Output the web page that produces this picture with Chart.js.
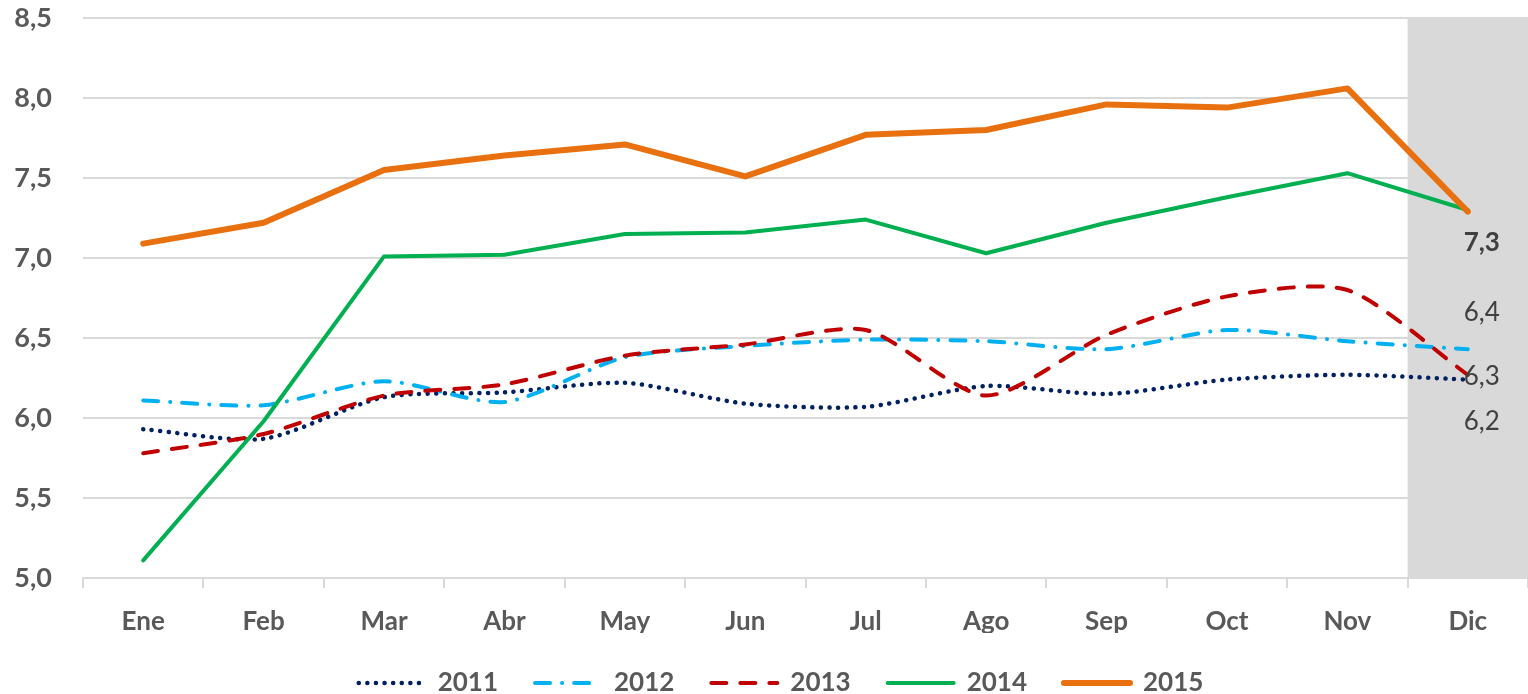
<!DOCTYPE html>
<html>
<head>
<meta charset="utf-8">
<script src="https://cdn.jsdelivr.net/npm/chart.js@4"></script>
<style>
html,body{margin:0;padding:0;background:#fff;}
#wrap{width:1528px;height:694px;position:relative;}
</style>
</head>
<body>
<div id="wrap"><canvas id="c" width="1528" height="694"></canvas></div>
<script>
const months = ["Ene","Feb","Mar","Abr","May","Jun","Jul","Ago","Sep","Oct","Nov","Dic"];
const seriesNames = ["2011","2012","2013","2014","2015"];
const v2011 = [5.93,5.87,6.13,6.16,6.22,6.09,6.07,6.20,6.15,6.24,6.27,6.24];
const v2012 = [6.11,6.08,6.23,6.10,6.38,6.45,6.49,6.48,6.43,6.55,6.48,6.43];
const v2013 = [5.78,5.90,6.14,6.21,6.39,6.46,6.55,6.14,6.52,6.76,6.80,6.27];
const v2014 = [5.11,5.98,7.01,7.02,7.15,7.16,7.24,7.03,7.22,7.38,7.53,7.30];
const v2015 = [7.09,7.22,7.55,7.64,7.71,7.51,7.77,7.80,7.96,7.94,8.06,7.29];
const yTicks = [5.0,5.5,6.0,6.5,7.0,7.5,8.0,8.5];

const FONT = "Lato, 'Open Sans', sans-serif";
const fmt = v => v.toFixed(1).replace('.', ',');

const bandPlugin = {
  id: 'band',
  beforeDatasetsDraw(chart) {
    const {ctx, chartArea, scales: {x}} = chart;
    const half = (x.getPixelForValue(1) - x.getPixelForValue(0)) / 2;
    const left = x.getPixelForValue(months.length - 1) - half;
    ctx.save();
    ctx.fillStyle = '#d9d9d9';
    ctx.fillRect(left, chartArea.top, chartArea.right - left, chartArea.bottom - chartArea.top);
    ctx.restore();
  }
};

// shift the legend so it is centred like the original
const legendShift = {
  id: 'legendShift',
  afterLayout(chart) {
    if (chart.legend) { chart.legend.left += 17; chart.legend.right += 17; }
  }
};

// data labels at the last category: [datasetIndex, dy, bold]
const labelSpecs = [[4, 31, true], [1, -37, false], [2, 2, false], [0, 42, false]];
const labelPlugin = {
  id: 'dlabels',
  afterDatasetsDraw(chart) {
    const {ctx} = chart;
    const last = months.length - 1;
    ctx.save();
    ctx.textAlign = 'center';
    ctx.textBaseline = 'middle';
    ctx.fillStyle = '#404040';
    labelSpecs.forEach(([di, dy, bold]) => {
      const el = chart.getDatasetMeta(di).data[last];
      const val = chart.data.datasets[di].data[last];
      ctx.font = (bold ? 'bold ' : '') + '26px ' + FONT;
      ctx.fillText(fmt(val), el.x + 14, el.y + dy);
    });
    ctx.restore();
  }
};

function ds(label, data, color, width, dash, tension, order) {
  return {
    label, data, borderColor: color, backgroundColor: color,
    borderWidth: width, borderDash: dash, borderCapStyle: 'round',
    borderJoinStyle: 'round', pointRadius: 0, pointHoverRadius: 0,
    pointStyle: 'line', tension, fill: false, order
  };
}

new Chart(document.getElementById('c'), {
  type: 'line',
  data: {
    labels: months,
    datasets: [
      ds(seriesNames[0], v2011, '#002060', 4.5, [0.1, 8.5], 0.25, 4),
      ds(seriesNames[1], v2012, '#00B0F0', 4, [15, 12, 0.1, 12], 0.25, 3),
      ds(seriesNames[2], v2013, '#C00000', 4, [15, 14], 0.25, 2),
      ds(seriesNames[3], v2014, '#00B050', 4, [], 0, 1),
      ds(seriesNames[4], v2015, '#E8700F', 6, [], 0, 0)
    ]
  },
  options: {
    responsive: false,
    animation: false,
    devicePixelRatio: 1,
    layout: { padding: { top: 18, right: 0, left: 0, bottom: -12 } },
    plugins: {
      tooltip: { enabled: false },
      legend: {
        position: 'bottom',
        labels: {
          usePointStyle: true,
          pointStyle: 'line',
          pointStyleWidth: 66,
          padding: 37,
          color: '#595959',
          font: { family: FONT, size: 26, weight: 'bold' },
          sort: (a, b) => a.datasetIndex - b.datasetIndex,
          generateLabels(chart) {
            const items = Chart.defaults.plugins.legend.labels.generateLabels(chart);
            items.forEach(it => {
              const d = chart.data.datasets[it.datasetIndex];
              it.lineDash = d.borderDash;
              it.lineCap = 'round';
              it.lineWidth = d.borderWidth;
              it.strokeStyle = d.borderColor;
              it.fillStyle = d.borderColor;
              it.pointStyle = 'line';
            });
            return items;
          }
        }
      }
    },
    scales: {
      x: {
        offset: true,
        grid: { offset: true, drawOnChartArea: false, drawTicks: true, tickLength: 10, color: '#d9d9d9', lineWidth: 2 },
        border: { display: true, color: '#d9d9d9', width: 2 },
        ticks: { color: '#595959', font: { family: FONT, size: 26, weight: 'bold' }, padding: 18, maxRotation: 0 },
        afterFit(s) { s.height = 55; }
      },
      y: {
        min: 5, max: 8.5,
        afterBuildTicks(s) { s.ticks = yTicks.map(v => ({ value: v })); },
        grid: { color: '#d9d9d9', lineWidth: 2, drawTicks: false },
        border: { display: false },
        ticks: { color: '#595959', font: { family: FONT, size: 27, weight: 'bold' }, padding: 31, callback: v => fmt(v) },
        afterFit(s) { s.width = 83; s.paddingTop = 0; s.paddingBottom = 0; }
      }
    }
  },
  plugins: [bandPlugin, labelPlugin, legendShift]
});
</script>
</body>
</html>
